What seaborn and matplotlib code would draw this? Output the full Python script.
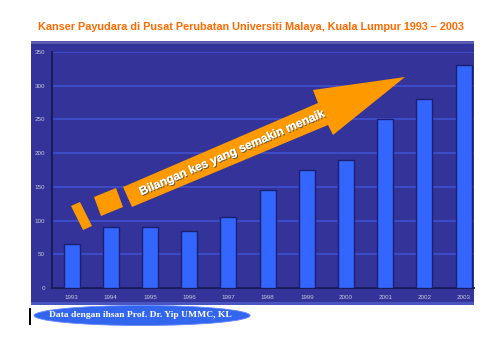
import matplotlib
matplotlib.use("Agg")
import matplotlib.pyplot as plt
import seaborn as sns
import pandas as pd
from matplotlib.patches import Rectangle, Polygon, Ellipse
from matplotlib.transforms import Affine2D
import matplotlib.patheffects as pe

years = ["1993", "1994", "1995", "1996", "1997", "1998", "1999", "2000", "2001", "2002", "2003"]
cases = [65, 90, 90, 85, 105, 145, 175, 190, 250, 280, 330]
y_ticks = [0, 50, 100, 150, 200, 250, 300, 350]
title = "Kanser Payudara di Pusat Perubatan Universiti Malaya, Kuala Lumpur 1993 \u2013 2003"
arrow_text = "Bilangan kes yang semakin menaik"
source_text = "Data dengan ihsan Prof. Dr. Yip UMMC, KL"

df = pd.DataFrame({"year": years, "cases": cases})

sns.set_theme(style="white")
plt.rcParams["font.family"] = ["Liberation Sans", "DejaVu Sans"]

W, H = 504, 340
fig = plt.figure(figsize=(W / 100, H / 100), dpi=100)
fig.patch.set_facecolor("white")

# pixel transform (origin top-left)
px = Affine2D().scale(1.0 / W, -1.0 / H).translate(0, 1) + fig.transFigure

panel = "#333399"
fig.patches.append(Rectangle((31, 41), 443, 264, transform=px, facecolor=panel,
                             edgecolor="none", zorder=-2))
fig.patches.append(Rectangle((31, 41), 443, 2.5, transform=px, facecolor="#5a5ab0",
                             edgecolor="none", zorder=-1))
fig.patches.append(Rectangle((31, 302), 443, 3, transform=px, facecolor="#4a55c0",
                             edgecolor="none", zorder=-1))

ax = fig.add_axes([52 / W, (H - 288) / H, (474 - 52) / W, (288 - 52) / H])
ax.set_zorder(1)
ax.set_facecolor(panel)

sns.barplot(data=df, x="year", y="cases", ax=ax, color="#3366ff", saturation=1,
            width=0.41, edgecolor="#1a1f70", linewidth=1.0, zorder=3)

ax.set_ylim(0, 350)
ax.set_xlim(-0.5, 10.265)
ax.set_yticks(y_ticks)
ax.set_yticklabels([str(v) for v in y_ticks])
ax.set_xlabel("")
ax.set_ylabel("")
ax.grid(axis="y", color="#3f4cc8", linewidth=1.4, zorder=1)
ax.grid(axis="x", visible=False)
ax.set_axisbelow(True)
for s in ["top", "right"]:
    ax.spines[s].set_visible(False)
for s in ["left", "bottom"]:
    ax.spines[s].set_color("#151a55")
    ax.spines[s].set_linewidth(1.3)
ax.tick_params(axis="both", labelsize=4.5, colors="#c8c8dc", length=2, width=0.6, pad=3)
ax.tick_params(axis="x", length=0, pad=5)

# title
fig.text(251 / W, 1 - 27 / H, title, color="#ff6a00", fontsize=7.8, fontweight="bold",
         ha="center", va="center")

# orange arrow and leading dashes
orange = "#ff9900"
arrow_pts = [(123, 187), (318, 103), (313, 90), (405, 77), (333, 135), (328, 125), (132, 207)]
fig.patches.append(Polygon(arrow_pts, closed=True, transform=px, facecolor=orange,
                           edgecolor="none", zorder=5))
sq1 = [(94, 197), (116, 188), (123, 207), (101, 216)]
sq2 = [(71, 206), (80, 202), (92, 226), (83, 230)]
for sq in (sq1, sq2):
    fig.patches.append(Polygon(sq, closed=True, transform=px, facecolor=orange,
                               edgecolor="none", zorder=5))

fig.text(232 / W, 1 - 153 / H, arrow_text, color="white", fontsize=8.6, fontweight="bold",
         rotation=23.3, rotation_mode="anchor", ha="center", va="center", zorder=6,
         path_effects=[pe.withSimplePatchShadow(offset=(0.8, -0.8), shadow_rgbFace="#555555", alpha=0.9),
                       pe.Normal()])

# source label
fig.patches.append(Ellipse((142, 315.5), 216, 20, transform=px, facecolor="#3366ee",
                           edgecolor="#6688ff", linewidth=0.6, zorder=4))
fig.patches.append(Rectangle((29, 308), 2, 17, transform=px, facecolor="black",
                             edgecolor="none", zorder=4))
fig.text(140 / W, 1 - 315 / H, source_text, color="white", fontsize=6.8, fontweight="bold",
         family=["Liberation Serif", "DejaVu Serif"], ha="center", va="center", zorder=5)

fig.savefig("out.png", dpi=100, facecolor="white")
